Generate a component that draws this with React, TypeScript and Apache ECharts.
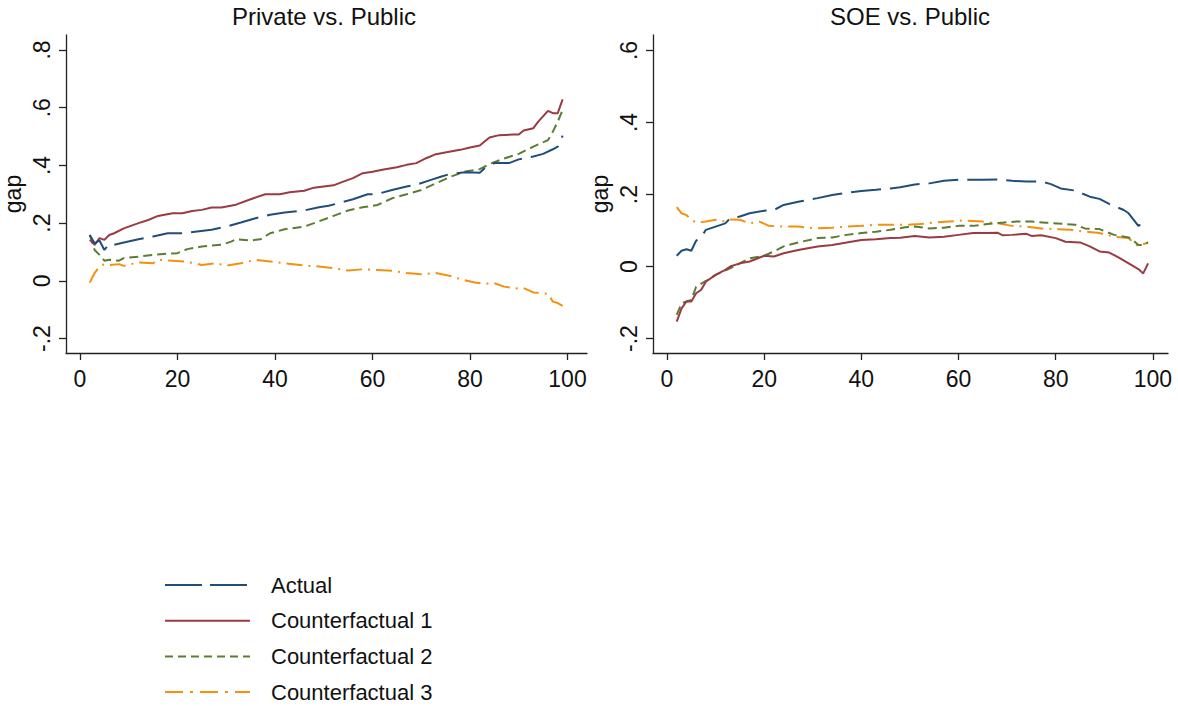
import React, { useEffect, useRef } from "react";
import * as echarts from "echarts";

// ---------- data (percentile, gap) ----------
const panelTitles = ["Private vs. Public", "SOE vs. Public"];
const seriesNames = ["Actual", "Counterfactual 1", "Counterfactual 2", "Counterfactual 3"];
const xTicks = [0, 20, 40, 60, 80, 100];
const yTicksLeft = [-0.2, 0, 0.2, 0.4, 0.6, 0.8];
const yTicksRight = [-0.2, 0, 0.2, 0.4, 0.6];

const privActual = [[2,0.159],[3,0.130],[4,0.140],[5,0.107],[6,0.128],[7,0.125],[9,0.133],[12,0.144],[15,0.154],[18,0.165],[21,0.165],[24,0.171],[27,0.177],[30,0.188],[33,0.202],[36,0.217],[39,0.229],[42,0.237],[46,0.244],[49,0.255],[51,0.260],[53,0.269],[56,0.283],[59,0.300],[61,0.301],[64,0.315],[67,0.327],[69,0.333],[72,0.350],[74,0.361],[76,0.371],[79,0.376],[82,0.375],[83,0.390],[85,0.408],[88,0.408],[90,0.421],[93,0.431],[95,0.440],[97,0.456],[98,0.465],[99,0.503]];
const privCf1 = [[2,0.142],[3,0.125],[4,0.148],[5,0.142],[6,0.159],[7,0.165],[9,0.182],[12,0.200],[14,0.211],[16,0.225],[19,0.234],[21,0.234],[23,0.242],[25,0.246],[27,0.254],[29,0.254],[32,0.264],[35,0.283],[38,0.300],[41,0.300],[43,0.307],[46,0.312],[48,0.323],[50,0.327],[52,0.331],[54,0.344],[56,0.356],[58,0.373],[60,0.378],[62,0.385],[65,0.394],[67,0.402],[69,0.408],[71,0.425],[73,0.439],[76,0.448],[78,0.454],[80,0.462],[82,0.469],[84,0.497],[86,0.505],[89,0.507],[90,0.507],[91,0.521],[93,0.529],[94,0.552],[96,0.589],[97,0.581],[98,0.581],[99,0.629]];
const privCf2 = [[2,0.159],[3,0.107],[4,0.090],[5,0.070],[6,0.073],[8,0.070],[9,0.079],[12,0.084],[15,0.090],[18,0.094],[20,0.096],[22,0.110],[25,0.119],[29,0.125],[31,0.136],[32,0.144],[35,0.140],[37,0.144],[39,0.165],[42,0.179],[46,0.188],[49,0.206],[52,0.225],[55,0.244],[58,0.255],[61,0.263],[64,0.286],[67,0.300],[70,0.315],[73,0.338],[76,0.361],[79,0.379],[82,0.387],[84,0.405],[87,0.424],[90,0.440],[93,0.465],[96,0.488],[97,0.517],[98,0.552],[99,0.592]];
const privCf3 = [[2,-0.006],[3,0.027],[4,0.050],[5,0.058],[6,0.055],[8,0.058],[9,0.052],[12,0.064],[15,0.061],[16,0.073],[19,0.070],[22,0.066],[25,0.055],[28,0.061],[30,0.053],[33,0.061],[36,0.073],[39,0.067],[42,0.061],[46,0.053],[49,0.050],[52,0.044],[55,0.036],[58,0.040],[61,0.038],[64,0.035],[67,0.027],[70,0.023],[73,0.027],[76,0.017],[78,0.006],[81,-0.006],[83,-0.010],[85,-0.008],[87,-0.020],[90,-0.027],[91,-0.025],[93,-0.040],[95,-0.043],[96,-0.045],[97,-0.072],[98,-0.077],[99,-0.087]];

const soeActual = [[2,0.030],[3,0.044],[4,0.048],[5,0.044],[6,0.072],[7,0.081],[8,0.102],[10,0.111],[12,0.120],[13,0.134],[15,0.139],[17,0.148],[20,0.155],[22,0.157],[24,0.171],[27,0.180],[31,0.190],[34,0.199],[37,0.205],[40,0.210],[43,0.213],[46,0.217],[48,0.220],[51,0.228],[54,0.231],[57,0.238],[60,0.241],[63,0.241],[65,0.241],[68,0.242],[69,0.241],[71,0.238],[74,0.236],[77,0.236],[79,0.229],[81,0.217],[84,0.211],[87,0.194],[89,0.188],[91,0.174],[94,0.157],[95,0.148],[97,0.113],[98,0.122],[99,0.127]];
const soeCf1 = [[2,-0.153],[3,-0.116],[4,-0.097],[5,-0.097],[6,-0.074],[7,-0.065],[8,-0.042],[10,-0.023],[12,-0.009],[13,0.000],[15,0.009],[17,0.014],[20,0.030],[22,0.028],[24,0.037],[27,0.046],[31,0.056],[34,0.060],[37,0.067],[40,0.074],[43,0.076],[46,0.079],[48,0.080],[51,0.085],[54,0.081],[57,0.083],[60,0.088],[63,0.093],[66,0.093],[68,0.094],[69,0.087],[71,0.088],[74,0.091],[75,0.085],[77,0.087],[80,0.079],[82,0.069],[85,0.067],[87,0.056],[89,0.042],[91,0.039],[93,0.025],[95,0.009],[97,-0.007],[98,-0.019],[99,0.009]];
const soeCf2 = [[2,-0.134],[3,-0.102],[4,-0.097],[5,-0.093],[6,-0.056],[8,-0.040],[10,-0.023],[13,-0.005],[15,0.009],[17,0.023],[20,0.030],[22,0.042],[24,0.056],[27,0.067],[31,0.079],[34,0.081],[37,0.088],[40,0.093],[43,0.097],[46,0.102],[49,0.109],[51,0.111],[54,0.106],[57,0.108],[60,0.113],[63,0.113],[66,0.118],[69,0.122],[72,0.125],[75,0.125],[78,0.122],[82,0.118],[84,0.116],[86,0.106],[89,0.104],[92,0.088],[95,0.081],[96,0.072],[97,0.060],[98,0.060],[99,0.067]];
const soeCf3 = [[2,0.165],[3,0.148],[4,0.143],[5,0.130],[6,0.122],[8,0.125],[10,0.130],[12,0.125],[13,0.131],[15,0.130],[17,0.120],[19,0.125],[21,0.113],[24,0.111],[27,0.111],[31,0.106],[34,0.108],[37,0.111],[40,0.113],[43,0.116],[46,0.116],[49,0.116],[52,0.118],[55,0.122],[58,0.125],[61,0.128],[65,0.125],[68,0.120],[71,0.113],[74,0.111],[77,0.106],[80,0.104],[83,0.102],[86,0.097],[89,0.093],[92,0.083],[95,0.079],[97,0.056],[98,0.062],[99,0.067]];

const panelData = [
  [privActual, privCf1, privCf2, privCf3],
  [soeActual, soeCf1, soeCf2, soeCf3],
];

// ---------- styles ----------
const FONT = "'Liberation Sans', Arial, Helvetica, sans-serif";
const colors = ["#1f4e7a", "#9a3a42", "#5a7d33", "#f5900e"];
const dashes: any[] = [[30, 9], "solid", [9, 5], [16, 6, 2, 6]];
const legendDashes: any[] = [[37, 8], null, [8, 5], [18, 7, 3, 7]];

const fmtY = (v: number) => {
  if (Math.abs(v) < 1e-9) return "0";
  const s = (Math.round(v * 10) / 10).toString();
  return s.replace("0.", ".");
};

export default function App() {
  const ref = useRef<HTMLDivElement>(null);
  useEffect(() => {
    if (!ref.current) return;
    const chart = echarts.init(ref.current, undefined, { renderer: "svg" });

    const grids = [
      { left: 66, top: 35, width: 521, height: 318 },
      { left: 653, top: 35, width: 515, height: 318 },
    ];
    const xRanges = [[-2.87, 104], [-2.88, 103.1]];
    const yRanges = [[-0.25, 0.852], [-0.24, 0.643]];
    const yTicks = [yTicksLeft, yTicksRight];
    const titleCenters = [324, 910];

    const axisCommon = {
      axisLine: { show: true, onZero: false, lineStyle: { color: "#222", width: 1.3 } },
      axisTick: { show: true, length: 7, lineStyle: { color: "#222", width: 1.3 } },
      splitLine: { show: false },
    };

    // legend drawn as graphic rows
    const legendX = 165, legendW = 85, legendY0 = 585, legendStep = 35.7;
    const legendGraphics: any[] = [];
    seriesNames.forEach((name, k) => {
      const y = legendY0 + k * legendStep;
      legendGraphics.push({
        type: "line",
        shape: { x1: legendX, y1: y, x2: legendX + legendW, y2: y },
        style: {
          stroke: colors[k],
          lineWidth: 2,
          lineDash: legendDashes[k] || undefined,
        },
      });
      legendGraphics.push({
        type: "text",
        x: 271,
        y,
        style: {
          text: name,
          fontFamily: FONT,
          fontSize: 22,
          fill: "#111",
          verticalAlign: "middle",
          align: "left",
        },
      });
    });

    const option: any = {
      animation: false,
      backgroundColor: "#fff",
      title: panelTitles.map((t, i) => ({
        text: t,
        left: titleCenters[i],
        top: 4,
        textAlign: "center",
        padding: 0,
        textStyle: { fontFamily: FONT, fontSize: 24, fontWeight: "normal", color: "#111" },
      })),
      grid: grids,
      xAxis: grids.map((_, i) => ({
        type: "value",
        gridIndex: i,
        min: xRanges[i][0],
        max: xRanges[i][1],
        ...axisCommon,
        axisTick: { ...axisCommon.axisTick, customValues: xTicks },
        axisLabel: {
          customValues: xTicks,
          margin: 14,
          fontFamily: FONT,
          fontSize: 23,
          color: "#111",
          showMinLabel: true,
          showMaxLabel: true,
        },
      })),
      yAxis: grids.map((_, i) => ({
        type: "value",
        gridIndex: i,
        min: yRanges[i][0],
        max: yRanges[i][1],
        name: "gap",
        nameLocation: "middle",
        nameGap: 42,
        nameTextStyle: { fontFamily: FONT, fontSize: 23, color: "#111" },
        ...axisCommon,
        axisTick: { ...axisCommon.axisTick, customValues: yTicks[i] },
        axisLabel: {
          customValues: yTicks[i],
          rotate: 90,
          margin: 13,
          formatter: (v: number) => fmtY(v),
          fontFamily: FONT,
          fontSize: 23,
          color: "#111",
          showMinLabel: true,
          showMaxLabel: true,
        },
      })),
      graphic: legendGraphics,
      series: panelData.flatMap((arrs, p) =>
        arrs.map((d, k) => ({
          type: "line",
          name: seriesNames[k],
          xAxisIndex: p,
          yAxisIndex: p,
          data: d,
          showSymbol: false,
          symbol: "none",
          smooth: false,
          color: colors[k],
          lineStyle: { color: colors[k], width: 2, type: dashes[k] },
          z: 4 - k,
        }))
      ),
    };
    chart.setOption(option);
    return () => chart.dispose();
  }, []);
  return (
    <div
      ref={ref}
      style={{ position: "fixed", left: 0, top: 0, width: 1178, height: 706, background: "#fff" }}
    />
  );
}
